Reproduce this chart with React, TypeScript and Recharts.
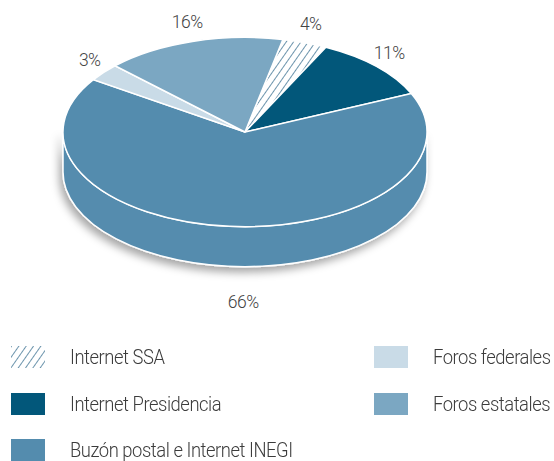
import React from 'react';
import { PieChart, Pie, Cell, Legend } from 'recharts';

const categories = ['Internet SSA', 'Internet Presidencia', 'Buzón postal e Internet INEGI', 'Foros federales', 'Foros estatales'];
const shares = [4, 11, 66, 3, 16];
const colors = ['url(#hatchSSA)', '#02577a', '#548cae', '#c9dbe7', '#7ba7c2'];

const data = categories.map((name, i) => ({ name, value: shares[i] }));

const FONT = "Roboto, 'Noto Sans', sans-serif";
const RAD = Math.PI / 180;
const FLAT = 0.52; // vertical squash of the pie top
const DEPTH = 40;

const pt = (cx: number, cy: number, rx: number, ry: number, a: number, dy = 0) =>
  `${cx + rx * Math.cos(a * RAD)},${cy - ry * Math.sin(a * RAD) + dy}`;

// elliptical "3d" slice: front wall + top face
const Slice3D = (props: any) => {
  const { cx, cy, outerRadius, startAngle, endAngle, fill } = props;
  const rx = outerRadius;
  const ry = outerRadius * FLAT;
  const hi = Math.max(startAngle, endAngle);
  const lo = Math.min(startAngle, endAngle);
  const large = hi - lo > 180 ? 1 : 0;
  const top = `M${cx},${cy} L${pt(cx, cy, rx, ry, hi)} A${rx},${ry} 0 ${large} 1 ${pt(cx, cy, rx, ry, lo)} Z`;

  const walls: string[] = [];
  [-720, -360, 0, 360].forEach((k) => {
    const a = Math.min(hi, k);
    const b = Math.max(lo, k - 180);
    if (a > b) {
      walls.push(
        `M${pt(cx, cy, rx, ry, a)} A${rx},${ry} 0 0 1 ${pt(cx, cy, rx, ry, b)} ` +
          `L${pt(cx, cy, rx, ry, b, DEPTH)} A${rx},${ry} 0 0 0 ${pt(cx, cy, rx, ry, a, DEPTH)} Z`
      );
    }
  });

  return (
    <g>
      {walls.map((d, i) => (
        <path key={i} d={d} fill={fill} stroke="#fff" strokeWidth={1.5} filter="url(#pieShadow)" />
      ))}
      <path d={top} fill={fill} stroke="#fff" strokeWidth={1.5} />
    </g>
  );
};

const renderLabel = (props: any) => {
  const { cx, cy, midAngle, outerRadius, value } = props;
  const s = Math.sin(midAngle * RAD);
  const front = s < 0;
  // labels under the pie sit close to the centre line
  const x = cx + (outerRadius + 24) * Math.cos(midAngle * RAD) * (front ? 0.1 : 0.97);
  const y = cy - (outerRadius * FLAT + 20) * s + (front ? DEPTH + 16 : 0);
  return (
    <text
      x={x}
      y={y}
      textAnchor="middle"
      dominantBaseline="central"
      fill="#444"
      fontFamily={FONT}
      fontWeight={300}
      fontSize={17.5}
      letterSpacing={-0.5}
    >
      {value}%
    </text>
  );
};

const renderLegend = () => (
  <div
    style={{
      position: 'relative',
      width: 554,
      height: 114,
      fontFamily: FONT,
      fontWeight: 300,
      fontSize: 20,
      letterSpacing: -0.5,
      color: '#3c3c3c',
    }}
  >
    {categories.map((name, i) => {
      const col = i < 3 ? 0 : 1;
      const row = i < 3 ? i : i - 3;
      const top = row * 46.5;
      const left = col === 0 ? 11 : 374;
      return (
        <div key={name} style={{ position: 'absolute', top, left, height: 22, display: 'flex', alignItems: 'center', whiteSpace: 'nowrap' }}>
          <svg width={34} height={22} style={{ display: 'block' }}>
            <defs>
              <pattern id={`lgHatch${i}`} patternUnits="userSpaceOnUse" width={6} height={6} patternTransform="rotate(35)">
                <rect width={6} height={6} fill="#fff" />
                <line x1={0} y1={0} x2={0} y2={6} stroke="#1d5c80" strokeWidth={1.3} />
              </pattern>
            </defs>
            <rect width={34} height={22} fill={i === 0 ? `url(#lgHatch${i})` : colors[i]} />
          </svg>
          <span
            style={{
              marginLeft: 25,
              lineHeight: '22px',
              display: 'inline-block',
              transform: 'scaleX(0.92)',
              transformOrigin: 'left center',
            }}
          >
            {name}
          </span>
        </div>
      );
    })}
  </div>
);

export default function App() {
  return (
    <div style={{ position: 'absolute', left: 0, top: 0 }}>
      <PieChart width={554} height={461} margin={{ top: 0, right: 0, bottom: 0, left: 0 }}>
        <defs>
          <pattern id="hatchSSA" patternUnits="userSpaceOnUse" width={6} height={6} patternTransform="rotate(35)">
            <rect width={6} height={6} fill="#fff" />
            <line x1={0} y1={0} x2={0} y2={6} stroke="#1d5c80" strokeWidth={1.3} />
          </pattern>
          <filter id="pieShadow" x="-20%" y="-50%" width="140%" height="200%">
            <feDropShadow dx={-3} dy={5} stdDeviation={4} floodColor="#000" floodOpacity={0.35} />
          </filter>
        </defs>
        <Pie
          data={data}
          dataKey="value"
          nameKey="name"
          cx={245}
          cy={132}
          outerRadius={182}
          startAngle={78}
          endAngle={-282}
          stroke="#fff"
          label={renderLabel}
          labelLine={false}
          shape={Slice3D}
          activeShape={Slice3D}
          inactiveShape={Slice3D}
          isAnimationActive={false}
        >
          {data.map((d, i) => (
            <Cell key={d.name} fill={colors[i]} />
          ))}
        </Pie>
        <Legend
          verticalAlign="bottom"
          content={renderLegend}
          wrapperStyle={{ top: 346, left: 0, width: 554, height: 114, bottom: 'auto' }}
        />
      </PieChart>
    </div>
  );
}
